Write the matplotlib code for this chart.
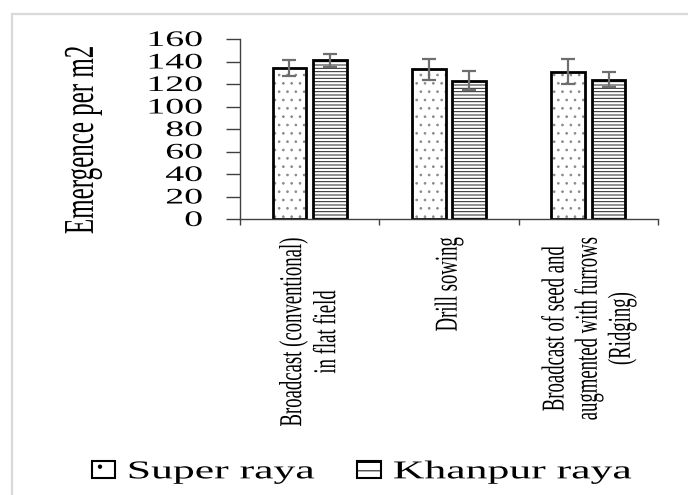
import numpy as np
import matplotlib
matplotlib.use("Agg")
import matplotlib.pyplot as plt
from matplotlib.patches import Rectangle, Patch
from matplotlib.patheffects import AbstractPathEffect
from matplotlib.transforms import Affine2D

# seedling emergence per m2 by sowing method
methods = ["Broadcast (conventional)\nin flat field",
           "Drill sowing",
           "Broadcast of seed and\naugmented with furrows\n(Ridging)"]
super_raya = [134, 133, 131]
super_err = [7.2, 9.0, 11.2]
khanpur_raya = [141, 123, 124]
khanpur_err = [5.5, 8.5, 6.8]
yticks = [0, 20, 40, 60, 80, 100, 120, 140, 160]


class Widen(AbstractPathEffect):
    # draws each text line stretched sideways around one of its edges
    def __init__(self, sx=1.7, anchor="center"):
        super().__init__()
        self.sx = sx
        self.anchor = anchor

    def draw_path(self, renderer, gc, tpath, affine, rgbFace=None):
        box = tpath.get_extents(affine)
        if self.anchor == "left":
            x0 = box.x0
        elif self.anchor == "right":
            x0 = box.x1
        else:
            x0 = 0.5 * (box.x0 + box.x1)
        affine = affine + Affine2D().translate(-x0, 0).scale(self.sx, 1).translate(x0, 0)
        renderer.draw_path(gc, tpath, affine, rgbFace)


plt.rcParams["font.family"] = ["Liberation Serif", "DejaVu Serif"]
plt.rcParams["hatch.linewidth"] = 0.7
SX = 1.7
W, H = 688, 495

fig = plt.figure(figsize=(W / 100, H / 100), dpi=100)
fig.add_artist(Rectangle((11.7 / W, -0.1), 1.2, 1 - 14 / H + 0.1, transform=fig.transFigure,
                         fill=False, edgecolor="#d9d9d9", lw=1.6))

ax = fig.add_axes([240 / W, 1 - 219 / H, 418 / W, 180 / H])
x = np.arange(len(methods))
bw = 0.24
ekw = dict(ecolor="#6e6e6e", elinewidth=1.6, capsize=5.2, capthick=1.6)

# hatch fill first (its own colour), then the black outline with the error bars
ax.bar(x - 0.145, super_raya, bw, color="white", edgecolor="#8a8a8a", lw=0, hatch="..")
ax.bar(x + 0.145, khanpur_raya, bw, color="white", edgecolor="#202020", lw=0, hatch="-----")
ax.bar(x - 0.145, super_raya, bw, yerr=super_err, fill=False, edgecolor="black", lw=2,
       error_kw=ekw)
ax.bar(x + 0.145, khanpur_raya, bw, yerr=khanpur_err, fill=False, edgecolor="black", lw=2,
       error_kw=ekw)

ax.set_xlim(-0.5, 2.5)
ax.set_ylim(0, 160)
for s in ["top", "right"]:
    ax.spines[s].set_visible(False)
for s in ["left", "bottom"]:
    ax.spines[s].set_color("#404040")
    ax.spines[s].set_linewidth(1.0)

ax.set_yticks(yticks)
ax.tick_params(axis="y", length=10, width=1, color="#404040", pad=17, labelsize=16)
for t in ax.get_yticklabels():
    t.set_path_effects([Widen(SX, "right")])

ax.set_xticks([-0.5, 0.5, 1.5, 2.5])
ax.set_xticklabels([])
ax.tick_params(axis="x", which="major", length=4.5, width=1, color="#404040")
ax.set_xticks(x, methods, minor=True, rotation=90, multialignment="center",
              linespacing=2.2)
ax.tick_params(axis="x", which="minor", length=0, pad=13, labelsize=13.5)
for t in ax.get_xticklabels(minor=True):
    t.set_path_effects([Widen(SX, "center")])

fig.text(83 / W, 1 - 139.5 / H, "Emergence per m2", rotation=90, ha="center", va="center",
         fontsize=18, path_effects=[Widen(SX, "center")])

handles = [Patch(facecolor="white", edgecolor="black", lw=1.5, hatch="."),
           Patch(facecolor="white", edgecolor="black", lw=1.5, hatch="--")]
leg = fig.legend(handles, ["Super raya", "Khanpur raya"], loc="center left",
                 bbox_to_anchor=(92 / W, 1 - 472 / H), ncol=2, frameon=False, fontsize=18.5,
                 handlelength=0.9, handleheight=0.66, handletextpad=0.5, columnspacing=4.6,
                 borderpad=0, borderaxespad=0)
for t in leg.get_texts():
    t.set_path_effects([Widen(SX, "left")])

fig.savefig("out.png", dpi=100)
